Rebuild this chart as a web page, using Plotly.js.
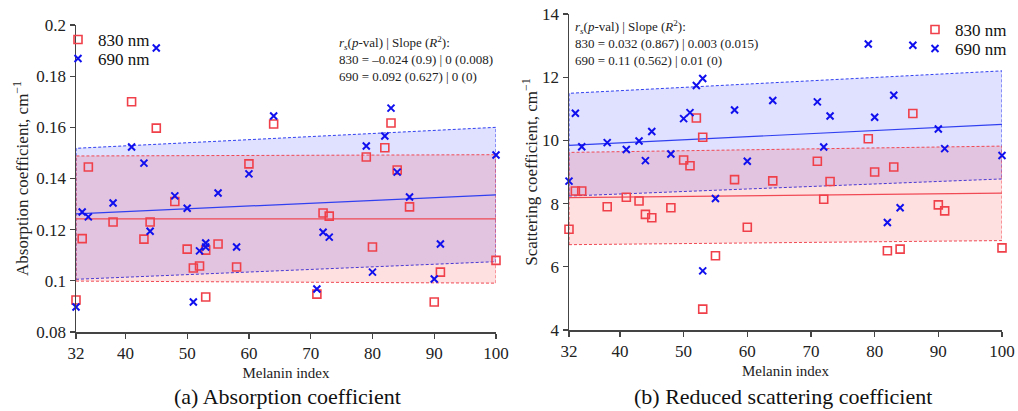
<!DOCTYPE html>
<html>
<head>
<meta charset="utf-8">
<script src="https://cdn.plot.ly/plotly-3.0.1.min.js"></script>
<style>html,body{margin:0;padding:0;background:#fff;}#chart{width:1018px;height:411px;}</style>
</head>
<body>
<div id="chart"></div>
<script>
// ---- data ----
const melanin = [32,33,34,38,41,43,44,45,48,50,51,52,53,53,55,58,60,64,71,72,73,79,80,82,83,84,86,90,91,100];

// (a) absorption coefficient, cm^-1
const abs830 = [0.0925,0.1165,0.1445,0.123,0.170,0.1163,0.123,0.1597,0.131,0.1124,0.105,0.1058,0.112,0.0937,0.1144,0.1054,0.1457,0.1613,0.0948,0.1265,0.1253,0.1484,0.1132,0.152,0.1617,0.1433,0.1289,0.0917,0.1034,0.108];
const abs690 = [0.0898,0.1269,0.125,0.1304,0.1523,0.146,0.1194,0.191,0.1332,0.1284,0.0917,0.1117,0.1148,0.1132,0.1343,0.1132,0.1418,0.1644,0.0968,0.119,0.1171,0.1527,0.1034,0.1566,0.1675,0.1425,0.1328,0.1007,0.1144,0.1492];

// (b) reduced scattering coefficient, cm^-1
const sca830 = [7.19,8.40,8.40,7.90,8.20,8.08,7.66,7.55,7.87,9.38,9.20,10.71,10.10,4.66,6.35,8.76,7.25,8.72,9.34,8.14,8.70,10.05,9.00,6.51,9.16,6.56,10.85,7.96,7.77,6.60];
const sca690 = [8.71,10.86,9.80,9.93,9.71,9.98,9.36,10.28,9.57,10.69,10.88,11.74,11.96,5.87,8.16,10.96,9.34,11.26,11.22,9.79,10.77,13.05,10.73,7.40,11.43,7.87,13.01,10.36,9.74,9.52];

// fitted lines and prediction bands at the range ends [32, 100]
const fitX = [32, 100];
const absFit830 = [0.1242, 0.1242], absLo830 = [0.0999, 0.0991], absHi830 = [0.1488, 0.1493];
const absFit690 = [0.1262, 0.1336], absLo690 = [0.1006, 0.1075], absHi690 = [0.1518, 0.1600];
const scaFit830 = [8.19, 8.33], scaLo830 = [6.70, 6.83], scaHi830 = [9.62, 9.82];
const scaFit690 = [9.84, 10.51], scaLo690 = [8.24, 8.78], scaHi690 = [11.49, 12.20];

const xTicks = [32,40,50,60,70,80,90,100];
const statsA = ['<i>r</i><sub><i>s</i></sub>(<i>p</i>-val) | Slope (<i>R</i><sup>2</sup>):',
                '830 = \u20130.024 (0.9) | 0 (0.008)',
                '690 = 0.092 (0.627) | 0 (0)'];
const statsB = ['<i>r</i><sub><i>s</i></sub>(<i>p</i>-val) | Slope (<i>R</i><sup>2</sup>):',
                '830 = 0.032 (0.867) | 0.003 (0.015)',
                '690 = 0.11 (0.562) | 0.01 (0)'];
const captions = ['(a) Absorption coefficient', '(b) Reduced scattering coefficient'];

// ---- styles ----
const RED = '#f0404a', BLUE = '#1010ee';
const RED_LINE = '#f04a55', BLUE_LINE = '#3040f0';
const FONT = "'Liberation Serif', 'Times New Roman', serif";

function band(xs, lo, hi, color, fill, xa, ya) {
  return {
    x: [xs[0], xs[1], xs[1], xs[0], xs[0]],
    y: [lo[0], lo[1], hi[1], hi[0], lo[0]],
    xaxis: xa, yaxis: ya, mode: 'lines', fill: 'toself', fillcolor: fill,
    line: {color: color, width: 1, dash: '3px,2px'}, showlegend: false, hoverinfo: 'skip'
  };
}
function fit(xs, ys, color, xa, ya) {
  return {x: xs, y: ys, xaxis: xa, yaxis: ya, mode: 'lines',
          line: {color: color, width: 1.2}, showlegend: false, hoverinfo: 'skip'};
}
function pts(ys, name, sym, color, xa, ya, leg) {
  const m = sym === 'square-open'
    ? {symbol: sym, size: 8, color: color, line: {color: color, width: 1.6}}
    : {symbol: 'x-thin-open', size: 7, color: color, line: {color: color, width: 2}};
  return {x: melanin, y: ys, xaxis: xa, yaxis: ya, mode: 'markers', name: name,
          marker: m, cliponaxis: false, legend: leg};
}

const traces = [
  band(fitX, absLo690, absHi690, BLUE_LINE, 'rgba(0,0,255,0.12)', 'x', 'y'),
  band(fitX, absLo830, absHi830, RED_LINE, 'rgba(255,0,0,0.12)', 'x', 'y'),
  fit(fitX, absFit690, BLUE_LINE, 'x', 'y'),
  fit(fitX, absFit830, RED_LINE, 'x', 'y'),
  pts(abs830, '830 nm', 'square-open', RED, 'x', 'y', 'legend'),
  pts(abs690, '690 nm', 'x', BLUE, 'x', 'y', 'legend2'),

  band(fitX, scaLo690, scaHi690, BLUE_LINE, 'rgba(0,0,255,0.12)', 'x2', 'y2'),
  band(fitX, scaLo830, scaHi830, RED_LINE, 'rgba(255,0,0,0.12)', 'x2', 'y2'),
  fit(fitX, scaFit690, BLUE_LINE, 'x2', 'y2'),
  fit(fitX, scaFit830, RED_LINE, 'x2', 'y2'),
  pts(sca830, '830 nm', 'square-open', RED, 'x2', 'y2', 'legend3'),
  pts(sca690, '690 nm', 'x', BLUE, 'x2', 'y2', 'legend4')
];

const axisCommon = {
  showline: true, linecolor: '#444', linewidth: 1.5, ticks: 'outside', ticklen: 5,
  tickwidth: 1.3, tickcolor: '#444', showgrid: false, zeroline: false,
  tickfont: {family: FONT, size: 17, color: '#222'}
};

function leg(px, py) {
  return {x: px/1018, y: 1 - py/411, xanchor: 'left', yanchor: 'middle', bgcolor: 'rgba(0,0,0,0)',
          font: {family: FONT, size: 17, color: '#111'}, itemwidth: 30, tracegroupgap: 0};
}

const layout = {
  width: 1018, height: 411,
  margin: {l: 0, r: 0, t: 0, b: 0},
  paper_bgcolor: '#fff', plot_bgcolor: '#fff',
  font: {family: FONT, color: '#222'},
  xaxis: Object.assign({}, axisCommon, {
    domain: [76/1018, 496/1018], range: [32, 100], tickvals: xTicks, anchor: 'y',
    title: {text: 'Melanin index', font: {family: FONT, size: 15}, standoff: 5}
  }),
  yaxis: Object.assign({}, axisCommon, {
    domain: [1 - 332/411, 1 - 25/411], range: [0.08, 0.2], dtick: 0.02, tick0: 0.08, anchor: 'x',
    title: {text: 'Absorption coefficient, cm<sup>\u22121</sup>', font: {family: FONT, size: 17}, standoff: 3}
  }),
  xaxis2: Object.assign({}, axisCommon, {
    domain: [569/1018, 1002/1018], range: [32, 100], tickvals: xTicks, anchor: 'y2',
    title: {text: 'Melanin index', font: {family: FONT, size: 15}, standoff: 5}
  }),
  yaxis2: Object.assign({}, axisCommon, {
    domain: [1 - 330/411, 1 - 14/411], range: [4, 14], dtick: 2, anchor: 'x2',
    title: {text: 'Scattering coefficient, cm<sup>\u22121</sup>', font: {family: FONT, size: 17}, standoff: 0}
  }),
  legend: leg(58, 40),
  legend2: leg(58, 59),
  legend3: leg(915, 30),
  legend4: leg(915, 49),
  annotations: [
    {xref: 'paper', yref: 'paper', x: 337/1018, y: 1 - 32/411, xanchor: 'left', yanchor: 'top',
     align: 'left', showarrow: false, text: statsA.join('<br>'), font: {family: FONT, size: 13, color: '#222'}},
    {xref: 'paper', yref: 'paper', x: 573/1018, y: 1 - 16/411, xanchor: 'left', yanchor: 'top',
     align: 'left', showarrow: false, text: statsB.join('<br>'), font: {family: FONT, size: 13, color: '#222'}},
    {xref: 'paper', yref: 'paper', x: 287/1018, y: 1 - 396/411, xanchor: 'center', yanchor: 'middle',
     showarrow: false, text: captions[0], font: {family: FONT, size: 22, color: '#111'}},
    {xref: 'paper', yref: 'paper', x: 783/1018, y: 1 - 396/411, xanchor: 'center', yanchor: 'middle',
     showarrow: false, text: captions[1], font: {family: FONT, size: 22, color: '#111'}}
  ]
};

Plotly.newPlot('chart', traces, layout, {staticPlot: true, displayModeBar: false});
</script>
</body>
</html>
